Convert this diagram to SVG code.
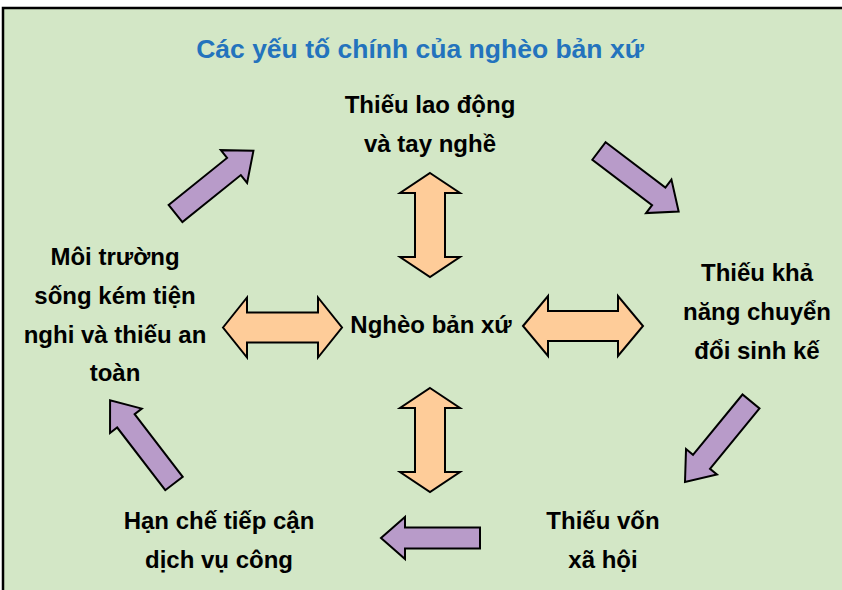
<svg xmlns="http://www.w3.org/2000/svg" width="842" height="590" viewBox="0 0 842 590">
  <style>
    .bg { fill: #D3E7C6; stroke: #000; stroke-width: 2.5; }
    .title { font-family: "Liberation Sans", Arial, sans-serif; font-weight: bold; font-size: 26.5px; fill: #2373BD; text-anchor: middle; }
    .lbl { font-family: "Liberation Sans", Arial, sans-serif; font-weight: bold; font-size: 24px; fill: #000; text-anchor: middle; }
    .purple { fill: #B89BC9; stroke: #000; stroke-width: 2; stroke-linejoin: miter; }
    .orange { fill: #FECC99; stroke: #000; stroke-width: 2; stroke-linejoin: miter; }
  </style>
  <rect width="842" height="590" fill="#FFFFFF"/>
  <rect class="bg" x="3" y="8" width="845" height="590"/>
  <text class="title" x="420" y="58">Các yếu tố chính của nghèo bản xứ</text>

  <g id="connectors">
    <polygon id="arrow-top-left" class="purple" points="0,-11 75,-11 75,-21 100,0 75,21 75,11 0,11" transform="translate(175.5,213.5) rotate(-38.8)"/>
    <polygon id="arrow-top-right" class="purple" points="0,-11 75,-11 75,-21 100,0 75,21 75,11 0,11" transform="translate(599,151) rotate(37.2)"/>
    <polygon id="arrow-right" class="purple" points="0,-11 78,-11 78,-20 104,0 78,20 78,11 0,11" transform="translate(751,401.5) rotate(129.4)"/>
    <polygon id="arrow-bottom" class="purple" points="480,527.5 405,527.5 405,517 381,538 405,559 405,548.5 480,548.5"/>
    <polygon id="arrow-left" class="purple" points="0,-11 79,-11 79,-20 105,0 79,20 79,11 0,11" transform="translate(174,483.5) rotate(-127.5)"/>
    <polygon id="dbl-up" class="orange" points="430,173 460,193 445,193 445,257 460,257 430,277 400,257 415,257 415,193 400,193"/>
    <polygon id="dbl-down" class="orange" points="430,388 460,408 445,408 445,472 460,472 430,492 400,472 415,472 415,408 400,408"/>
    <polygon id="dbl-left" class="orange" points="223,327.5 247,297.5 247,312.5 318,312.5 318,297.5 342,327.5 318,357.5 318,342.5 247,342.5 247,357.5"/>
    <polygon id="dbl-right" class="orange" points="523,326 548,296 548,311 618,311 618,296 643,326 618,356 618,341 548,341 548,356"/>
  </g>

  <g id="node-center">
    <text class="lbl" x="431" y="333">Nghèo bản xứ</text>
  </g>
  <g id="node-top">
    <text class="lbl" x="430" y="113">Thiếu lao động</text>
    <text class="lbl" x="430" y="152">và tay nghề</text>
  </g>
  <g id="node-right">
    <text class="lbl" x="757" y="281">Thiếu khả</text>
    <text class="lbl" x="757" y="320">năng chuyển</text>
    <text class="lbl" x="757" y="359">đổi sinh kế</text>
  </g>
  <g id="node-bottom-right">
    <text class="lbl" x="603" y="529">Thiếu vốn</text>
    <text class="lbl" x="603" y="568">xã hội</text>
  </g>
  <g id="node-bottom-left">
    <text class="lbl" x="219" y="529">Hạn chế tiếp cận</text>
    <text class="lbl" x="219" y="568">dịch vụ công</text>
  </g>
  <g id="node-left">
    <text class="lbl" x="115" y="265">Môi trường</text>
    <text class="lbl" x="115" y="304">sống kém tiện</text>
    <text class="lbl" x="115" y="343">nghi và thiếu an</text>
    <text class="lbl" x="115" y="381">toàn</text>
  </g>
</svg>
